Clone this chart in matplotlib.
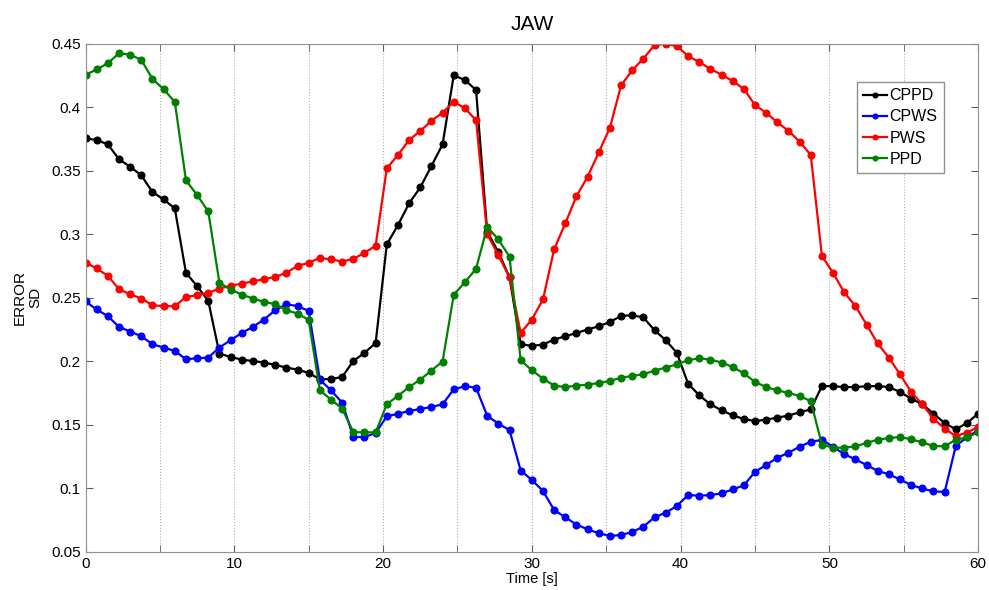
import matplotlib.pyplot as plt
import numpy as np
from matplotlib.ticker import MultipleLocator, FuncFormatter

plt.rcParams['font.family'] = ['Liberation Sans', 'DejaVu Sans']

# time axis: 81 samples, 0.75 s apart
time = np.arange(81) * 0.75

cppd = [0.3756, 0.3743, 0.3709, 0.3591, 0.3533, 0.3464, 0.3333, 0.3275, 0.3204, 0.2697,
        0.2592, 0.2476, 0.2060, 0.2034, 0.2013, 0.2002, 0.1990, 0.1971, 0.1950, 0.1934,
        0.1908, 0.1858, 0.1860, 0.1876, 0.2002, 0.2066, 0.2144, 0.2920, 0.3073, 0.3244,
        0.3370, 0.3538, 0.3709, 0.4253, 0.4216, 0.4137, 0.3020, 0.2862, 0.2660, 0.2134,
        0.2121, 0.2132, 0.2171, 0.2197, 0.2223, 0.2250, 0.2276, 0.2310, 0.2357, 0.2363,
        0.2345, 0.2244, 0.2166, 0.2066, 0.1824, 0.1732, 0.1661, 0.1614, 0.1574, 0.1545,
        0.1529, 0.1540, 0.1556, 0.1572, 0.1598, 0.1621, 0.1805, 0.1803, 0.1797, 0.1797,
        0.1803, 0.1805, 0.1797, 0.1758, 0.1706, 0.1661, 0.1587, 0.1513, 0.1464, 0.1513,
        0.1587]

cpws = [0.2471, 0.2408, 0.2355, 0.2271, 0.2234, 0.2197, 0.2134, 0.2108, 0.2081, 0.2016,
        0.2024, 0.2029, 0.2108, 0.2166, 0.2223, 0.2271, 0.2329, 0.2402, 0.2450, 0.2434,
        0.2397, 0.1855, 0.1771, 0.1674, 0.1403, 0.1403, 0.1435, 0.1566, 0.1587, 0.1608,
        0.1624, 0.1640, 0.1661, 0.1779, 0.1803, 0.1792, 0.1570, 0.1509, 0.1457, 0.1139,
        0.1065, 0.0978, 0.0828, 0.0771, 0.0713, 0.0676, 0.0645, 0.0624, 0.0631, 0.0655,
        0.0697, 0.0771, 0.0807, 0.0860, 0.0946, 0.0941, 0.0946, 0.0959, 0.0991, 0.1022,
        0.1129, 0.1182, 0.1240, 0.1279, 0.1327, 0.1366, 0.1380, 0.1327, 0.1267, 0.1228,
        0.1182, 0.1137, 0.1109, 0.1069, 0.1024, 0.0998, 0.0974, 0.0971, 0.1333, 0.1401,
        0.1457]

pws = [0.2778, 0.2731, 0.2673, 0.2568, 0.2528, 0.2494, 0.2442, 0.2434, 0.2434, 0.2507,
       0.2520, 0.2539, 0.2573, 0.2594, 0.2612, 0.2629, 0.2647, 0.2665, 0.2697, 0.2752,
       0.2775, 0.2815, 0.2802, 0.2786, 0.2807, 0.2854, 0.2910, 0.3520, 0.3625, 0.3743,
       0.3814, 0.3895, 0.3958, 0.4045, 0.3993, 0.3900, 0.3002, 0.2836, 0.2660, 0.2223,
       0.2329, 0.2487, 0.2883, 0.3086, 0.3301, 0.3454, 0.3646, 0.3840, 0.4174, 0.4293,
       0.4384, 0.4492, 0.4500, 0.4484, 0.4405, 0.4358, 0.4303, 0.4258, 0.4208, 0.4146,
       0.4019, 0.3958, 0.3882, 0.3816, 0.3730, 0.3625, 0.2830, 0.2696, 0.2542, 0.2436,
       0.2289, 0.2140, 0.2029, 0.1897, 0.1758, 0.1661, 0.1548, 0.1469, 0.1411, 0.1438,
       0.1482]

ppd = [0.4256, 0.4300, 0.4348, 0.4427, 0.4416, 0.4374, 0.4224, 0.4143, 0.4043, 0.3425,
       0.3310, 0.3180, 0.2618, 0.2565, 0.2526, 0.2494, 0.2468, 0.2450, 0.2402, 0.2376,
       0.2326, 0.1771, 0.1698, 0.1627, 0.1442, 0.1440, 0.1440, 0.1661, 0.1727, 0.1797,
       0.1855, 0.1927, 0.1998, 0.2523, 0.2623, 0.2728, 0.3059, 0.2960, 0.2823, 0.2008,
       0.1929, 0.1863, 0.1808, 0.1797, 0.1808, 0.1816, 0.1829, 0.1845, 0.1871, 0.1884,
       0.1898, 0.1927, 0.1950, 0.1976, 0.2008, 0.2024, 0.2013, 0.1990, 0.1955, 0.1905,
       0.1837, 0.1797, 0.1771, 0.1750, 0.1727, 0.1685, 0.1343, 0.1319, 0.1319, 0.1330,
       0.1356, 0.1382, 0.1395, 0.1403, 0.1385, 0.1361, 0.1332, 0.1330, 0.1382, 0.1400,
       0.1440]

series = [('CPPD', cppd, 'black'), ('CPWS', cpws, '#0000ff'),
          ('PWS', pws, '#ff0000'), ('PPD', ppd, '#008000')]

fig = plt.figure(figsize=(9.89, 5.90), dpi=100)
ax = fig.add_axes([0.0865, 0.065, 0.9025, 0.8605])

for name, vals, col in series:
    ax.plot(time, vals, '-o', color=col, lw=1.6, ms=4.8, label=name)

ax.set_xlim(0, 60)
ax.set_ylim(0.05, 0.45)
ax.xaxis.set_major_locator(MultipleLocator(10))
ax.xaxis.set_minor_locator(MultipleLocator(5))
ax.yaxis.set_major_locator(MultipleLocator(0.05))
ax.yaxis.set_major_formatter(FuncFormatter(lambda v, p: '%g' % round(v, 2)))
ax.grid(True, axis='x', which='both', ls=':', color='#b0b0b0', lw=0.8)
ax.tick_params(which='both', direction='in', top=True, right=True,
               labelsize=11, color='#606060', length=5)
for sp in ax.spines.values():
    sp.set_color('#909090')

ax.set_title('JAW', fontsize=15, pad=10)
ax.set_xlabel('Time [s]', fontsize=10.5, labelpad=1)
ax.set_ylabel('ERROR\nSD', fontsize=11, labelpad=6)

ax.legend(loc='upper left', bbox_to_anchor=(0.864, 0.925), fontsize=11.5,
          fancybox=False, framealpha=1, edgecolor='#909090',
          handlelength=1.5, handletextpad=0.15, borderpad=0.4,
          labelspacing=0.38, borderaxespad=0, markerscale=0.7)

fig.savefig('out.png', dpi=100)
